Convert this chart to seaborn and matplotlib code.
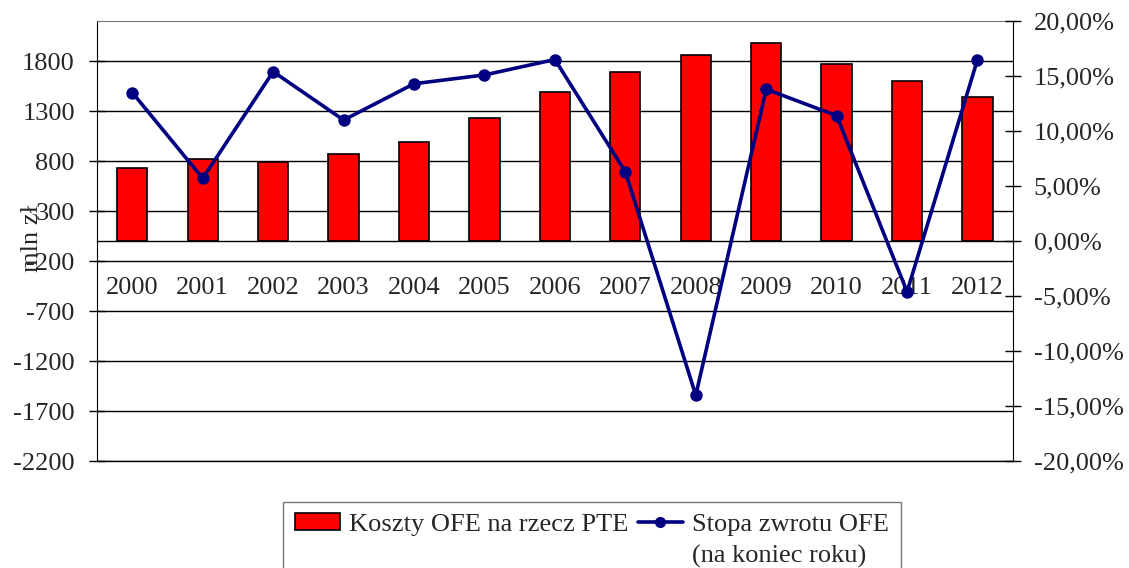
import numpy as np
import pandas as pd
import matplotlib
matplotlib.use("Agg")
import matplotlib.pyplot as plt
import matplotlib.ticker as mticker
from matplotlib.patches import Patch
from matplotlib.lines import Line2D
import seaborn as sns

# data
years = ['2000', '2001', '2002', '2003', '2004', '2005', '2006',
         '2007', '2008', '2009', '2010', '2011', '2012']
costs = [730, 820, 790, 870, 990, 1230, 1490, 1690, 1860, 1980, 1770, 1600, 1440]
returns = [13.5, 5.7, 15.4, 11.0, 14.3, 15.1, 16.5, 6.3, -14.0, 13.8, 11.4, -4.6, 16.5]

df = pd.DataFrame({'Rok': years, 'Koszty': costs, 'Stopa': returns})

sns.set_style('white')
plt.rcParams['font.family'] = ['Liberation Serif', 'DejaVu Serif']
plt.rcParams['font.size'] = 19
plt.rcParams['axes.unicode_minus'] = False

fig = plt.figure(figsize=(11.29, 5.68), dpi=100)
ax = fig.add_axes([0.086, 0.188, 0.811, 0.775])

# bars
sns.barplot(data=df, x='Rok', y='Koszty', ax=ax, color='#FF0000',
            edgecolor='black', linewidth=1.2, width=0.43, saturation=1)
ax.set_ylim(-2200, 2200)
ax.set_xlim(-0.5, len(years) - 0.5)
ax.set_yticks(np.arange(-2200, 2201, 500))
ax.yaxis.grid(True, color='black', linewidth=1)
ax.set_axisbelow(True)
ax.axhline(-2200, color='black', linewidth=1, clip_on=False, zorder=0)
ax.set_xlabel('')
ax.set_ylabel('')

# x axis at zero, ticks between categories
ax.spines['bottom'].set_position(('data', 0))
ax.spines['bottom'].set_linewidth(1)
ax.spines['bottom'].set_color('black')
ax.spines['top'].set_color('#777777')
ax.spines['left'].set_color('black')
ax.spines['right'].set_visible(False)
ax.tick_params(axis='x', which='major', length=0, pad=26, labelsize=19)
ax.set_xticks(np.arange(0.5, len(years) - 1, 1), minor=True)
ax.tick_params(axis='x', which='minor', direction='inout', length=12, width=1, color='black')
ax.tick_params(axis='y', direction='inout', length=12, width=1, color='black', labelsize=19, pad=10)

# line on the right axis
ax2 = ax.twinx()
sns.pointplot(data=df, x='Rok', y='Stopa', ax=ax2, color='#000080',
              markers='o', linestyles='-', markersize=7, linewidth=2.6, errorbar=None)
ax2.set_ylim(-20, 20)
ax2.set_xlim(-0.5, len(years) - 0.5)
ax2.set_yticks(np.arange(-20, 21, 5))
ax2.yaxis.set_major_formatter(mticker.FuncFormatter(lambda v, p: f'{v:.2f}'.replace('.', ',') + '%'))
ax2.set_ylabel('')
ax2.set_xlabel('')
ax2.grid(False)
for s in ['top', 'left', 'bottom']:
    ax2.spines[s].set_visible(False)
ax2.spines['right'].set_color('black')
ax2.tick_params(axis='y', direction='inout', length=12, width=1, color='black', labelsize=19, pad=9)

fig.text(0.028, 0.58, 'mln zł', rotation=90, ha='center', va='center', fontsize=19)

# legend: second line of the line label sits under its text, handle on the first line
blank = Patch(alpha=0)
handles = [Patch(facecolor='#FF0000', edgecolor='black', linewidth=1.2), blank,
           Line2D([], [], color='#000080', linewidth=2.6, marker='o', markersize=7), blank]
labels = ['Koszty OFE na rzecz PTE', '', 'Stopa zwrotu OFE', '(na koniec roku)']
leg = fig.legend(handles, labels, loc='upper left', bbox_to_anchor=(0.251, 0.117),
                 ncol=2, frameon=True, fancybox=False, edgecolor='#555555',
                 fontsize=19, handlelength=1.7, handleheight=0.6, handletextpad=0.35,
                 columnspacing=0.35, borderpad=0.45, labelspacing=0.35, borderaxespad=0)
leg.get_frame().set_linewidth(1)

fig.savefig('out.png', dpi=100)
